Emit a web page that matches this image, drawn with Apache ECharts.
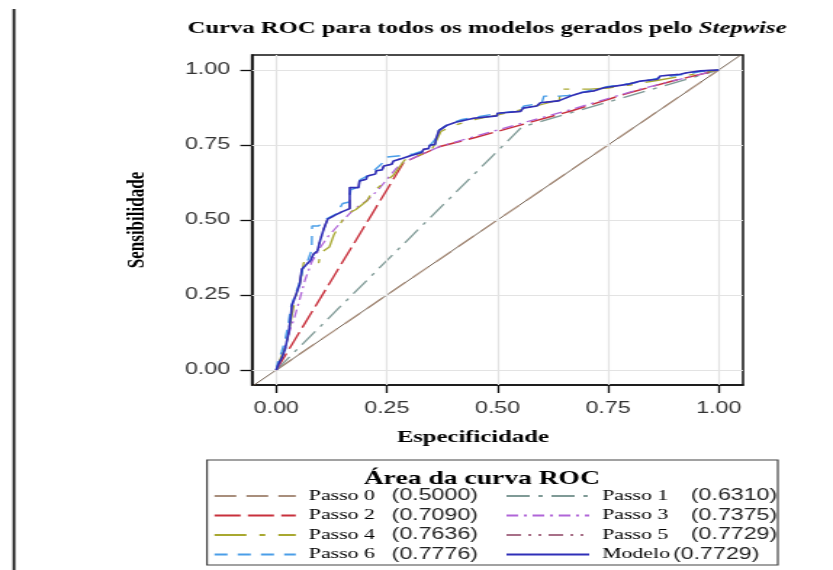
<!DOCTYPE html>
<html>
<head>
<meta charset="utf-8">
<script src="https://cdn.jsdelivr.net/npm/echarts@6/dist/echarts.min.js"></script>
<style>
html,body{margin:0;padding:0;background:#fff;overflow:hidden;}
#c{width:574px;height:570px;transform:scaleX(1.4512);transform-origin:0 0;}
</style>
</head>
<body>
<div id="c"></div>
<script>
// ---- data ----
const xTicks = [0, 0.25, 0.5, 0.75, 1];
const yTicks = [0, 0.25, 0.5, 0.75, 1];
const seriesNames = ['Passo 0','Passo 1','Passo 2','Passo 3','Passo 4','Passo 5','Passo 6','Modelo'];
const aucValues = ['0.5000','0.6310','0.7090','0.7375','0.7636','0.7729','0.7776','0.7729'];
const refLine = [[-0.1,-0.1],[1.1,1.1]];
const passo0 = [[0,0],[1,1]];
const passo1 = [[0,0],[0.555,0.81],[1,1]];
const passo2 = [[0,0],[0.288,0.692],[0.37,0.745],[0.45,0.775],[0.56,0.82],[0.67,0.865],[0.8,0.925],[0.9,0.965],[1,1]];
const passo3 = [[0,0],[0.01,0.03],[0.02,0.08],[0.03,0.13],[0.04,0.17],[0.05,0.22],[0.065,0.30],[0.08,0.36],[0.1,0.41],[0.118,0.447],[0.145,0.49],[0.175,0.535],[0.205,0.565],[0.23,0.6],[0.25,0.635],[0.27,0.67],[0.285,0.69],[0.33,0.72],[0.37,0.745],[0.44,0.775],[0.5,0.8],[0.56,0.825],[0.67,0.87],[0.75,0.905],[0.82,0.935],[0.9,0.965],[1,1]];
const passo4 = [[0,0],[0.01,0.04],[0.025,0.1],[0.035,0.18],[0.045,0.25],[0.055,0.3],[0.062,0.358],[0.075,0.358],[0.096,0.358],[0.1,0.39],[0.12,0.41],[0.13,0.45],[0.15,0.5],[0.16,0.52],[0.18,0.535],[0.205,0.564],[0.215,0.59],[0.24,0.62],[0.265,0.65],[0.285,0.69],[0.29,0.7],[0.32,0.715],[0.35,0.73],[0.362,0.765],[0.372,0.795],[0.4,0.815],[0.45,0.835],[0.5,0.85],[0.56,0.87],[0.6,0.885],[0.64,0.9],[0.642,0.936],[0.71,0.936],[0.75,0.94],[0.8,0.95],[0.86,0.965],[0.92,0.98],[1,1]];
const passo5 = [[0,0],[0.005,0.02],[0.013,0.042],[0.02,0.07],[0.028,0.125],[0.033,0.181],[0.035,0.214],[0.041,0.22],[0.045,0.253],[0.053,0.286],[0.058,0.336],[0.069,0.353],[0.077,0.364],[0.084,0.386],[0.093,0.397],[0.099,0.431],[0.107,0.469],[0.116,0.503],[0.133,0.516],[0.148,0.527],[0.166,0.538],[0.166,0.608],[0.186,0.608],[0.188,0.63],[0.203,0.636],[0.206,0.647],[0.224,0.653],[0.226,0.664],[0.239,0.667],[0.243,0.68],[0.261,0.686],[0.265,0.697],[0.284,0.705],[0.303,0.714],[0.329,0.725],[0.333,0.736],[0.344,0.738],[0.347,0.749],[0.359,0.752],[0.361,0.771],[0.368,0.799],[0.386,0.816],[0.408,0.827],[0.446,0.839],[0.499,0.847],[0.5,0.856],[0.552,0.862],[0.558,0.873],[0.589,0.88],[0.597,0.891],[0.638,0.897],[0.642,0.902],[0.665,0.913],[0.691,0.925],[0.717,0.93],[0.74,0.941],[0.793,0.952],[0.823,0.963],[0.861,0.969],[0.868,0.98],[0.913,0.986],[0.928,0.991],[0.959,0.997],[1,1]];
const passo6 = [[0,0],[0.004,0.03],[0.012,0.06],[0.02,0.1],[0.028,0.16],[0.033,0.21],[0.045,0.26],[0.055,0.3],[0.06,0.34],[0.07,0.36],[0.08,0.4],[0.081,0.48],[0.095,0.48],[0.105,0.49],[0.115,0.505],[0.135,0.52],[0.15,0.555],[0.165,0.56],[0.168,0.6],[0.185,0.61],[0.19,0.635],[0.21,0.65],[0.24,0.69],[0.25,0.71],[0.285,0.715],[0.31,0.72],[0.33,0.73],[0.345,0.745],[0.36,0.77],[0.368,0.8],[0.39,0.82],[0.42,0.835],[0.46,0.845],[0.5,0.855],[0.55,0.865],[0.56,0.88],[0.6,0.89],[0.605,0.913],[0.64,0.913],[0.66,0.915],[0.69,0.925],[0.72,0.935],[0.75,0.945],[0.8,0.955],[0.83,0.962],[0.87,0.975],[0.92,0.985],[0.96,0.995],[1,1]];
const modelo = [[0,0],[0.005,0.02],[0.013,0.042],[0.02,0.07],[0.028,0.125],[0.033,0.181],[0.035,0.214],[0.041,0.22],[0.045,0.253],[0.053,0.286],[0.058,0.336],[0.069,0.353],[0.077,0.364],[0.084,0.386],[0.093,0.397],[0.099,0.431],[0.107,0.469],[0.116,0.503],[0.133,0.516],[0.148,0.527],[0.166,0.538],[0.166,0.608],[0.186,0.608],[0.188,0.63],[0.203,0.636],[0.206,0.647],[0.224,0.653],[0.226,0.664],[0.239,0.667],[0.243,0.68],[0.261,0.686],[0.265,0.697],[0.284,0.705],[0.303,0.714],[0.329,0.725],[0.333,0.736],[0.344,0.738],[0.347,0.749],[0.359,0.752],[0.361,0.771],[0.368,0.799],[0.386,0.816],[0.408,0.827],[0.446,0.839],[0.499,0.847],[0.5,0.856],[0.552,0.862],[0.558,0.873],[0.589,0.88],[0.597,0.891],[0.638,0.897],[0.642,0.902],[0.665,0.913],[0.691,0.925],[0.717,0.93],[0.74,0.941],[0.793,0.952],[0.823,0.963],[0.861,0.969],[0.868,0.98],[0.913,0.986],[0.928,0.991],[0.959,0.997],[1,1]];

const seriesData = [passo0, passo1, passo2, passo3, passo4, passo5, passo6, modelo];
const colors = ['#a88e7c','#7f9a96','#c8303c','#b065d8','#a8a830','#a87088','#4a9ee8','#2f2fb8'];
const dashes = [[15,7],[16,6,3,6],[18,5],[8,4,2,4],[22,9,4,9],[10,5,2,5,2,5],[9,7],'solid'];
const widths = [1.3,1.3,1.4,1.3,1.3,1.3,1.4,1.6];

const chart = echarts.init(document.getElementById('c'), null, {renderer:'canvas'});

const serif = 'Liberation Serif';
const sans = 'Liberation Sans';

function legendFmt(){
  return function(name){
    const i = seriesNames.indexOf(name);
    if (name === 'Modelo') return '{p| }{m|' + name + '}{s| }{b|(' + aucValues[i] + ')}';
    return '{p| }{a|' + name + '}{b|(' + aucValues[i] + ')}';
  };
}
function legendRich(aWidth){
  return {
    p:{width:4},
    s:{width:2},
    a:{fontFamily:serif, fontSize:15, color:'#000', width:aWidth},
    m:{fontFamily:serif, fontSize:15, color:'#000'},
    b:{fontFamily:sans, fontSize:16, color:'#222'}
  };
}

const gridMarks = xTicks.map(v=>({xAxis:v})).concat(yTicks.map(v=>({yAxis:v})));

const series = [{
  type:'line', name:'ref', data:refLine, symbol:'none', silent:true,
  lineStyle:{color:'#6e5b4b', width:1}, z:2,
  markLine:{silent:true, symbol:'none', label:{show:false}, animation:false,
    lineStyle:{color:'#e3e3e3', width:1.2, type:'solid'}, data:gridMarks}
}];
seriesNames.forEach((n,i)=>{
  series.push({
    type:'line', name:n, data:seriesData[i], symbol:'none', silent:true,
    lineStyle:{color:colors[i], width:widths[i], type:dashes[i]},
    itemStyle:{color:colors[i]}, z:3+i
  });
});

chart.setOption({
  animation:false,
  backgroundColor:'#fff',
  title:[{
    text:'{a|Curva ROC para todos os modelos gerados pelo }{b|Stepwise}',
    left:335.6, top:20, textAlign:'center', padding:0,
    textStyle:{rich:{
      a:{fontFamily:serif, fontWeight:'bold', fontSize:17, color:'#000'},
      b:{fontFamily:serif, fontWeight:'bold', fontStyle:'italic', fontSize:17, color:'#000'}
    }}
  },{
    text:'Área da curva ROC', left:332, top:470, textAlign:'center', padding:0,
    textStyle:{fontFamily:serif, fontWeight:'bold', fontSize:19, color:'#000'}
  }],
  grid:{left:173.6, right:62, top:55, bottom:185, show:true, borderColor:'#111', borderWidth:1.5},
  xAxis:{
    type:'value', min:-0.055, max:1.055,
    axisLine:{show:true, onZero:false, lineStyle:{color:'#111', width:1.5}},
    axisTick:{show:true, customValues:xTicks, length:8, lineStyle:{color:'#111', width:1.3}},
    axisLabel:{customValues:xTicks, formatter:v=>v.toFixed(2), margin:16, fontFamily:sans, fontSize:16, color:'#333'},
    splitLine:{show:false},
    name:'Especificidade', nameLocation:'middle', nameGap:44,
    nameTextStyle:{fontFamily:serif, fontWeight:'bold', fontSize:17, color:'#000', padding:[0,34,0,0]}
  },
  yAxis:{
    type:'value', min:-0.05, max:1.05,
    axisLine:{show:true, onZero:false, lineStyle:{color:'#111', width:1.5}},
    axisTick:{show:true, customValues:yTicks, length:8, lineStyle:{color:'#111', width:1.3}},
    axisLabel:{customValues:yTicks, formatter:v=>v.toFixed(2), margin:15, fontFamily:sans, fontSize:16, color:'#333'},
    splitLine:{show:false},
    name:'Sensibilidade', nameLocation:'middle', nameGap:70, nameRotate:90,
    nameTextStyle:{fontFamily:serif, fontWeight:'bold', fontSize:17, color:'#000'}
  },
  legend:[{
    data:['Passo 0','Passo 2','Passo 4','Passo 6'],
    orient:'vertical', left:146.8, top:488, padding:0, itemGap:3.5,
    itemWidth:56, itemHeight:12, selectedMode:false,
    itemStyle:{opacity:0},
    formatter:legendFmt(), textStyle:{rich:legendRich(57)}
  },{
    data:['Passo 1','Passo 3','Passo 5','Modelo'],
    orient:'vertical', left:348, top:488, padding:0, itemGap:3.5,
    itemWidth:57, itemHeight:12, selectedMode:false,
    itemStyle:{opacity:0},
    formatter:legendFmt(), textStyle:{rich:legendRich(61)}
  }],
  graphic:[{
    type:'rect', shape:{x:142.6, y:460, width:393.4, height:105},
    style:{fill:null, stroke:'#444', lineWidth:1.2}, z:0, silent:true
  },{
    type:'line', shape:{x1:9.6, y1:9, x2:9.6, y2:570},
    style:{stroke:'#111', lineWidth:1.8}, silent:true
  }],
  series:series
});
</script>
</body>
</html>
